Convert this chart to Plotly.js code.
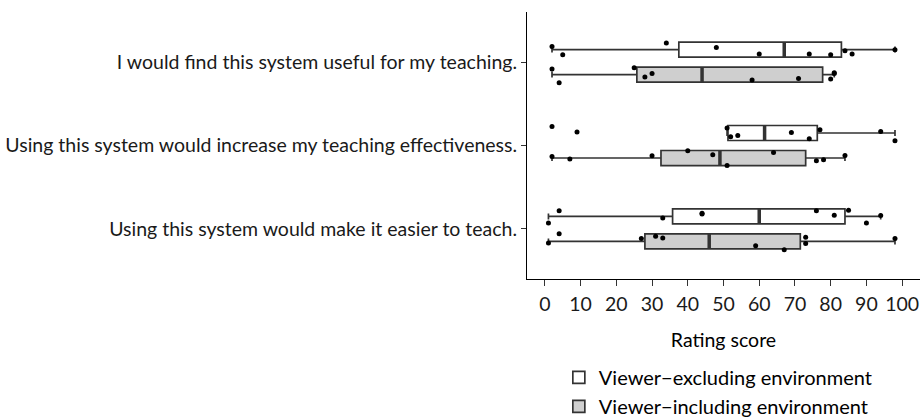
<!DOCTYPE html>
<html><head><meta charset="utf-8">
<script src="https://cdn.plot.ly/plotly-3.0.1.min.js"></script>
<style>html,body{margin:0;padding:0;background:#fff}#chart{width:920px;height:419px}</style>
</head><body><div id="chart"></div>
<script>
// Categories (top to bottom)
const questions = [
  "I would find this system useful for my teaching.",
  "Using this system would increase my teaching effectiveness.",
  "Using this system would make it easier to teach."
];
const seriesNames = ["Viewer\u2212excluding environment", "Viewer\u2212including environment"];
const xTicks = [0,10,20,30,40,50,60,70,80,90,100];

// Ratings, viewer-excluding environment
const exclUseful = [2,5,34,48,60,74,80,84,86,98];
const exclEffect = [2,9,51,52,54,69,74,77,94,98];
const exclEasier = [1,4,33,44,44,76,81,85,90,94];
// Ratings, viewer-including environment
const inclUseful = [2,4,25,28,30,58,71,80,81,81];
const inclEffect = [2,7,30,40,47,51,64,76,78,84];
const inclEasier = [1,4,27,31,33,59,67,73,73,98];

// Vertical jitter of the points (category units)
const jitExclUseful = [0.037,-0.062,0.078,0.025,-0.054,-0.054,-0.062,-0.014,-0.054,-0.002];
const jitExclEffect = [0.078,0.011,0.059,-0.046,-0.030,0.006,-0.069,0.038,0.018,-0.093];
const jitExclEasier = [-0.078,0.069,-0.018,0.037,0.030,0.069,0.013,0.073,-0.078,0.010];
const jitInclUseful = [0.066,-0.098,0.081,-0.030,0.014,-0.066,-0.046,-0.054,0.022,0.012];
const jitInclEffect = [0.018,-0.013,0.026,0.086,0.038,-0.090,0.066,-0.034,-0.022,0.030];
const jitInclEasier = [-0.018,0.093,0.034,0.061,0.042,-0.050,-0.098,0.049,-0.026,0.034];

const FONT = "Lato, 'DejaVu Sans', sans-serif";
const FS = 19.5;
const catPos = [3, 2, 1];
const dodge = [0.15, -0.15];
const boxW = 0.18;
const fills = ["#ffffff", "#cfcfcf"];

const series = [
  {vals: [exclUseful, exclEffect, exclEasier], jit: [jitExclUseful, jitExclEffect, jitExclEasier]},
  {vals: [inclUseful, inclEffect, inclEasier], jit: [jitInclUseful, jitInclEffect, jitInclEasier]}
];

function q7(s, p) {
  const h = (s.length - 1) * p, lo = Math.floor(h), hi = Math.ceil(h);
  return s[lo] + (h - lo) * (s[hi] - s[lo]);
}
function stats(v) {
  const s = v.slice().sort((a, b) => a - b);
  const q1 = q7(s, 0.25), med = q7(s, 0.5), q3 = q7(s, 0.75), iqr = q3 - q1;
  const lf = Math.min(...s.filter(x => x >= q1 - 1.5 * iqr));
  const uf = Math.max(...s.filter(x => x <= q3 + 1.5 * iqr));
  return {q1, med, q3, lf, uf};
}

const boxTraces = [], medTraces = [], ptTraces = [];
series.forEach((ser, si) => {
  const st = ser.vals.map(stats);
  const ys = catPos.map(p => p + dodge[si]);
  boxTraces.push({
    type: "box", orientation: "h", name: seriesNames[si],
    y: ys,
    q1: st.map(d => d.q1), median: st.map(d => d.med), q3: st.map(d => d.q3),
    lowerfence: st.map(d => d.lf), upperfence: st.map(d => d.uf),
    width: boxW, whiskerwidth: 0.4, boxpoints: false,
    fillcolor: fills[si], line: {color: "#333333", width: 1.7},
    legendgroup: "g" + si, hoverinfo: "skip"
  });
  const mx = [], my = [];
  st.forEach((d, i) => { mx.push(d.med, d.med, null); my.push(ys[i] - boxW / 2, ys[i] + boxW / 2, null); });
  medTraces.push({type: "scatter", mode: "lines", x: mx, y: my, line: {color: "#333333", width: 3.5},
    showlegend: false, hoverinfo: "skip"});
  const px = [], py = [];
  ser.vals.forEach((v, i) => v.forEach((x, k) => { px.push(x); py.push(ys[i] + ser.jit[i][k]); }));
  ptTraces.push({type: "scatter", mode: "markers", x: px, y: py,
    marker: {color: "#000000", size: 5}, showlegend: false, hoverinfo: "skip"});
});

const layout = {
  width: 920, height: 419,
  margin: {l: 527, r: 0, t: 12, b: 140},
  paper_bgcolor: "#ffffff", plot_bgcolor: "#ffffff",
  font: {family: FONT, size: FS, color: "#1a1a1a"},
  boxmode: "overlay",
  showlegend: true,
  xaxis: {
    range: [-5, 105], tickvals: xTicks, ticktext: xTicks.map(String),
    ticks: "outside", ticklen: 6, tickwidth: 1, tickcolor: "#333333",
    ticklabelstandoff: 2,
    showline: true, linecolor: "#000000", linewidth: 1,
    showgrid: false, zeroline: false, automargin: false,
    tickfont: {family: FONT, size: FS, color: "#1a1a1a"},
    title: {text: "Rating score", font: {family: FONT, size: FS, color: "#000000"}, standoff: 18}
  },
  yaxis: {
    range: [0.4, 3.6], tickvals: catPos, ticktext: questions,
    ticks: "outside", ticklen: 5, tickwidth: 1, tickcolor: "#333333",
    showline: true, linecolor: "#000000", linewidth: 1,
    showgrid: false, zeroline: false, automargin: false,
    tickfont: {family: FONT, size: FS, color: "#1a1a1a"}
  },
  legend: {
    orientation: "v", x: 0.081, xanchor: "left",
    yref: "container", y: 0.146, yanchor: "top",
    font: {family: FONT, size: 20, color: "#000000"},
    traceorder: "normal", tracegroupgap: 10, bgcolor: "rgba(0,0,0,0)"
  }
};

Plotly.newPlot("chart", [...boxTraces, ...medTraces, ...ptTraces], layout, {displayModeBar: false, staticPlot: true});
</script>
</body></html>
